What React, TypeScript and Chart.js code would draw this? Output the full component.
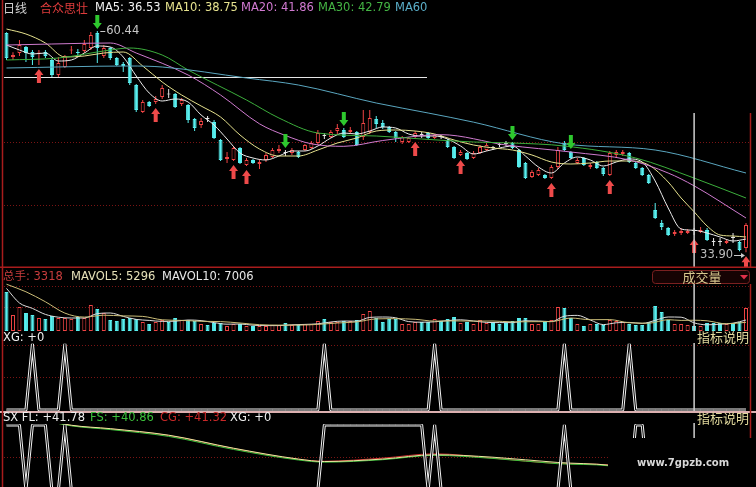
import React, { useEffect, useRef } from 'react';
import { Chart, registerables } from 'chart.js';

Chart.register(...registerables);

const W = 756;
const FONT = '11.5px "DejaVu Sans", "Noto Sans CJK SC", sans-serif';
const CJK12 = '12px "Noto Sans CJK SC", "DejaVu Sans", sans-serif';
const CJK13 = '13px "Noto Sans CJK SC", "DejaVu Sans", sans-serif';

const UP = '#f04444';
const DOWN = '#58f0f0';
const FLAT = '#e6e6e6';
const FRAME = '#a81c1c';
const GRID = '#7a1414';

// one slot per trading day, index 0..114
const X_MIN = -1.0;
const X_MAX = 115.54;
const CURSOR = 106;
const STOCK_NAME = '合众思壮';
const DRAWN_LEVEL = 54.92;

const opens = [
  60.2, 57.32, 57.8, 58.52, 57.92, 57.74, 57.92, 56.96, 55.16, 56.12,
  58.1, 57.92, 58.04, 58.4, 60.2, 57.44, 58.4, 57.2, 56.48, 57.2,
  53.96, 50.72, 51.92, 51.92, 52.52, 52.82, 52.88, 51.68, 51.56, 49.88,
  49.16, 49.88, 49.52, 47.36, 45.08, 44.96, 46.4, 44.36, 44.96, 44.48,
  44.96, 45.32, 46.04, 45.8, 45.8, 45.92, 46.16, 46.4, 47.0, 47.84,
  47.72, 48.44, 48.56, 48.32, 48.32, 47.72, 48.32, 49.88, 49.4, 48.92,
  48.32, 47.12, 47.12, 47.72, 47.96, 48.2, 47.6, 47.72, 47.36, 46.52,
  45.56, 45.8, 45.2, 45.8, 46.16, 46.4, 46.76, 46.88, 47.0, 46.16,
  44.6, 42.92, 43.16, 43.16, 42.8, 44.12, 47.0, 45.92, 44.6, 45.2,
  44.12, 44.72, 44.0, 43.16, 45.56, 45.68, 45.8, 44.6, 44.0, 43.16,
  38.96, 37.4, 36.8, 36.08, 36.2, 36.2, 36.44, 36.32, 36.56, 35.12,
  35.12, 35.0, 35.6, 35.12, 34.4,
];
const highs = [
  60.3, 57.9, 59.36, 58.64, 58.16, 58.16, 58.16, 57.2, 57.32, 57.56,
  58.64, 58.28, 59.36, 60.32, 60.44, 58.76, 58.52, 57.32, 56.72, 57.32,
  54.08, 52.16, 52.04, 52.64, 53.96, 53.48, 53.0, 52.4, 51.68, 50.0,
  50.0, 50.24, 49.76, 47.48, 45.92, 46.64, 46.52, 45.2, 45.08, 45.08,
  45.8, 46.4, 46.76, 46.16, 46.4, 46.04, 46.88, 47.24, 48.56, 48.2,
  48.56, 49.28, 48.8, 48.92, 48.44, 50.96, 50.96, 50.24, 49.76, 49.04,
  48.44, 47.84, 47.72, 48.44, 48.32, 48.32, 48.08, 47.96, 47.48, 46.64,
  46.16, 45.92, 46.04, 46.76, 47.0, 46.64, 47.0, 47.24, 47.12, 46.28,
  44.72, 43.76, 44.0, 43.28, 44.36, 46.52, 47.24, 46.04, 45.2, 45.32,
  44.6, 44.84, 44.12, 46.04, 46.16, 46.16, 45.92, 44.72, 44.12, 43.28,
  39.8, 37.76, 36.92, 36.56, 36.8, 36.68, 36.8, 36.92, 36.8, 35.6,
  35.6, 35.48, 36.2, 35.24, 37.4,
];
const lows = [
  56.96, 56.96, 57.44, 56.72, 56.36, 56.36, 57.2, 54.92, 54.92, 56.0,
  57.68, 57.44, 57.8, 58.16, 56.6, 57.2, 56.96, 56.24, 55.52, 53.96,
  50.72, 50.6, 51.32, 51.68, 52.28, 52.4, 51.2, 51.44, 49.4, 48.44,
  48.8, 49.52, 47.48, 44.84, 44.6, 44.84, 44.48, 44.24, 44.48, 43.88,
  44.72, 45.2, 45.8, 45.44, 45.56, 45.2, 46.04, 46.28, 46.76, 47.48,
  47.6, 48.08, 47.6, 48.08, 46.64, 47.36, 48.08, 48.8, 48.68, 48.2,
  47.12, 46.88, 47.0, 47.6, 47.6, 47.48, 47.48, 47.48, 46.4, 45.08,
  45.44, 44.96, 45.08, 45.68, 46.04, 46.16, 46.52, 46.64, 46.28, 44.0,
  42.68, 42.8, 43.04, 42.68, 42.68, 43.88, 46.04, 45.08, 44.48, 44.24,
  43.88, 43.88, 43.04, 43.04, 45.2, 45.44, 44.6, 43.88, 43.04, 42.08,
  37.88, 36.56, 35.84, 35.84, 35.96, 36.08, 35.96, 36.2, 35.24, 34.64,
  34.64, 34.88, 35.0, 34.0, 33.9,
];
const closes = [
  57.2, 57.56, 58.76, 57.8, 57.32, 57.8, 57.44, 55.16, 56.6, 57.44,
  58.16, 57.8, 58.88, 59.96, 58.4, 58.4, 57.2, 56.36, 56.24, 54.2,
  50.96, 51.92, 51.44, 52.28, 53.6, 52.82, 51.32, 52.16, 49.76, 48.8,
  49.64, 49.88, 47.6, 44.96, 45.32, 46.4, 44.6, 44.96, 44.6, 44.72,
  45.56, 46.16, 46.28, 45.8, 46.16, 45.32, 46.76, 47.0, 48.2, 47.84,
  48.32, 48.8, 47.72, 48.56, 46.76, 49.4, 50.0, 49.28, 48.92, 48.32,
  47.6, 47.72, 47.6, 48.2, 47.96, 47.6, 47.96, 47.72, 46.52, 45.2,
  45.92, 45.08, 45.8, 46.52, 46.76, 46.4, 46.76, 46.88, 46.4, 44.12,
  42.8, 43.52, 43.76, 42.8, 44.12, 46.16, 46.16, 45.2, 44.96, 44.36,
  44.36, 44.0, 43.28, 45.8, 45.92, 45.92, 44.72, 44.0, 43.16, 42.2,
  38.0, 36.92, 35.96, 36.32, 36.44, 36.44, 36.44, 36.56, 35.36, 35.12,
  35.12, 35.24, 35.6, 34.16, 37.16,
];
const volumes = [
  25380, 10420, 15570, 11730, 10360, 8470, 7820, 9760, 8430, 8480,
  7790, 9120, 8460, 16880, 14330, 11690, 7160, 6520, 7810, 8440,
  7830, 5860, 4540, 5870, 7140, 5830, 8460, 7170, 7150, 6490,
  4560, 3910, 5210, 5190, 3260, 4540, 4570, 3240, 3270, 3230,
  3260, 3920, 3890, 5220, 3910, 3880, 4560, 4530, 6510, 7790,
  5860, 5840, 6520, 6490, 7160, 11040, 13020, 8440, 5870, 7810,
  7790, 4560, 4540, 5860, 5830, 5870, 7820, 6490, 7810, 9120,
  5210, 5860, 4540, 7160, 5190, 5840, 4570, 5210, 6490, 8460,
  8430, 4560, 4540, 5870, 7140, 15620, 14930, 8460, 4550, 3260,
  4540, 4570, 3910, 7160, 6480, 5860, 4550, 3920, 3890, 5860,
  16240, 12360, 7150, 4560, 4540, 3910, 3318, 3260, 5210, 5190,
  5220, 4540, 5210, 5860, 14960,
];

type Pt = [number, number];

const ma5: Pt[] = [
  [0, 58.76], [2, 58.16], [4, 57.68], [6, 57.8], [8, 56.84], [10, 56.96], [12, 57.8], [14, 58.64],
  [16, 58.52], [18, 57.32], [20, 55.04], [22, 53.0], [24, 52.04], [26, 52.28], [28, 51.92], [30, 50.36],
  [32, 49.16], [34, 47.48], [36, 45.8], [38, 45.2], [40, 44.96], [42, 45.44], [44, 46.04], [46, 46.04],
  [48, 46.64], [50, 47.6], [52, 48.2], [54, 48.08], [56, 48.44], [58, 48.92], [60, 48.8], [62, 48.08],
  [64, 47.84], [66, 47.84], [68, 47.48], [70, 46.64], [72, 45.68], [74, 46.04], [76, 46.4], [78, 46.64],
  [80, 45.44], [82, 44.12], [84, 43.4], [86, 44.6], [88, 45.32], [90, 44.96], [92, 44.24], [94, 44.72],
  [96, 45.08], [98, 44.72], [100, 42.44], [102, 39.2], [104, 36.68], [106, 36.53], [108, 36.2],
  [110, 35.72], [112, 35.24], [114, 35.48],
];
const ma10: Pt[] = [
  [0, 60.68], [3, 60.08], [6, 59.0], [9, 57.32], [12, 57.44], [15, 57.8], [18, 57.92], [21, 56.24],
  [24, 54.32], [27, 52.76], [30, 51.44], [33, 50.12], [36, 47.96], [39, 46.28], [42, 45.44], [45, 45.44],
  [48, 46.16], [51, 47.0], [54, 47.6], [57, 48.44], [60, 48.56], [63, 48.44], [66, 48.08], [69, 47.36],
  [72, 46.76], [75, 46.4], [78, 46.16], [81, 45.56], [84, 44.72], [87, 44.48], [90, 44.6], [93, 44.84],
  [96, 44.84], [99, 44.36], [102, 42.32], [104, 40.4], [106, 38.75], [108, 37.04], [110, 35.96],
  [112, 35.84], [114, 35.72],
];
const ma20: Pt[] = [
  [0, 58.76], [7, 58.88], [16, 59.0], [20, 57.8], [28, 55.16], [33, 52.76], [39, 49.3], [43, 47.9],
  [47, 46.9], [52, 46.6], [58, 47.3], [67, 48.0], [77, 46.76], [87, 45.92], [96, 44.96], [102, 43.4],
  [106, 41.86], [114, 38.0],
];
const ma30: Pt[] = [
  [0, 56.96], [8, 57.2], [16, 58.16], [19, 58.4], [24, 57.56], [28, 55.76], [37, 52.16], [42, 50.0],
  [48, 48.2], [57, 47.84], [64, 47.48], [72, 47.12], [78, 47.0], [86, 46.64], [97, 45.2], [106, 42.79],
  [114, 40.4],
];
const ma60: Pt[] = [
  [0, 56.0], [19, 56.24], [24, 56.12], [37, 54.8], [45, 53.96], [57, 51.8], [65, 50.6], [72, 49.5],
  [86, 46.9], [100, 46.16], [114, 43.4],
];

const mavol5: Pt[] = [
  [0, 27700], [2, 18200], [4, 14690], [6, 10790], [8, 8970], [10, 8450], [12, 8450], [14, 11310],
  [16, 11700], [18, 9490], [20, 7540], [22, 6890], [24, 6240], [26, 6370], [28, 7150], [30, 6760],
  [32, 5460], [34, 4420], [36, 4550], [38, 3770], [40, 3510], [42, 3510], [44, 4030], [46, 4290],
  [48, 4680], [50, 5850], [52, 6500], [54, 6370], [56, 8840], [58, 9100], [60, 8580], [62, 6110],
  [64, 5720], [66, 5980], [68, 6760], [70, 7280], [72, 6500], [74, 5590], [76, 5460], [78, 5460],
  [80, 6630], [82, 6500], [84, 6110], [86, 9620], [88, 10140], [90, 7150], [92, 4160], [94, 5330],
  [96, 5590], [98, 4940], [100, 6890], [102, 9100], [104, 8970], [106, 5296], [108, 4030], [110, 4420],
  [112, 5070], [114, 7150],
];
const mavol10: Pt[] = [
  [0, 30400], [3, 25500], [6, 19000], [9, 11635], [12, 9035], [15, 10270], [18, 9815], [21, 9490],
  [24, 7280], [27, 6890], [30, 6305], [33, 6110], [36, 5200], [39, 4095], [42, 3835], [45, 3835],
  [48, 4290], [51, 5200], [54, 5915], [57, 7865], [60, 7995], [63, 7605], [66, 6435], [69, 6565],
  [72, 6435], [75, 6500], [78, 5915], [81, 6045], [84, 6110], [87, 8450], [90, 7345], [93, 7410],
  [96, 5330], [99, 5070], [102, 7345], [104, 6890], [106, 7006], [108, 6630], [111, 4680], [114, 5655],
];

// signal days
const buySignals = [5, 23, 35, 37, 63, 70, 84, 93, 106, 114];
const sellSignals = [14, 43, 52, 78, 87];
const xgSpikes = [4, 9, 49, 66, 86, 96];

// SX panel
const sxHoldRanges: Pt[] = [[0, 2], [4, 6], [9, 9], [49, 64], [66, 66], [86, 86], [97, 98]];
const SX_HIGH = 60;
const SX_LOW = 39;
const sxFL: Pt[] = [
  [4, 62.5], [10, 59.9], [16, 58.8], [25, 56.7], [35, 52.5], [45, 49.0], [49, 48.2], [58, 49.0],
  [66, 50.4], [75, 49.6], [85, 47.9], [93, 47.0], [100, 44.6], [106, 41.78], [114, 40.6],
];
const sxFS: Pt[] = [
  [4, 62.3], [10, 59.7], [16, 58.5], [25, 56.3], [35, 52.1], [45, 48.7], [49, 48.0], [58, 48.8],
  [66, 50.2], [75, 49.2], [85, 47.5], [93, 46.8], [100, 44.0], [106, 40.86], [114, 39.7],
];
const sxCG: Pt[] = [
  [4, 62.4], [10, 59.8], [16, 58.7], [25, 56.6], [35, 52.4], [45, 48.9], [49, 48.3], [58, 49.3],
  [66, 50.7], [75, 49.3], [85, 47.6], [93, 47.1], [100, 44.4], [106, 41.32], [114, 40.1],
];

const N = closes.length;
const toXY = (pts: Pt[]) => pts.map(([x, y]) => ({ x, y }));
const valueAt = (pts: Pt[], i: number) => {
  const p = pts.find((q) => q[0] === i);
  return p ? p[1] : NaN;
};
const candleColor = (i: number) => (closes[i] > opens[i] ? UP : closes[i] < opens[i] ? DOWN : FLAT);
const xgSeries = Array.from({ length: N }, (_, i) => ({ x: i, y: xgSpikes.includes(i) ? 1 : 0 }));
const sxSeries = Array.from({ length: N }, (_, i) => ({
  x: i,
  y: sxHoldRanges.some(([a, b]) => i >= a && i <= b) ? SX_HIGH : SX_LOW,
}));

function hline(ctx: CanvasRenderingContext2D, x1: number, x2: number, y: number) {
  ctx.beginPath();
  ctx.moveTo(x1, y);
  ctx.lineTo(x2, y);
  ctx.stroke();
}
function vline(ctx: CanvasRenderingContext2D, x: number, y1: number, y2: number) {
  ctx.beginPath();
  ctx.moveTo(x, y1);
  ctx.lineTo(x, y2);
  ctx.stroke();
}
function label(
  ctx: CanvasRenderingContext2D,
  s: string,
  x: number,
  y: number,
  color: string,
  align: CanvasTextAlign = 'left',
  font = FONT
) {
  ctx.font = font;
  ctx.fillStyle = color;
  ctx.textAlign = align;
  ctx.textBaseline = 'middle';
  ctx.fillText(s, x, y);
}
function dotted(ctx: CanvasRenderingContext2D, ys: number[]) {
  ctx.save();
  ctx.strokeStyle = GRID;
  ctx.lineWidth = 1;
  ctx.setLineDash([1, 2]);
  ys.forEach((y) => hline(ctx, 4, 750, y));
  ctx.restore();
}
function sideFrame(ctx: CanvasRenderingContext2D, h: number, rightFrom = 0) {
  ctx.save();
  ctx.strokeStyle = FRAME;
  ctx.lineWidth = 1.5;
  vline(ctx, 2.5, 0, h);
  vline(ctx, 750.5, rightFrom, h);
  ctx.restore();
}
function cursor(chart: any, y1: number, y2: number) {
  const x = chart.scales.x.getPixelForValue(CURSOR);
  const ctx = chart.ctx as CanvasRenderingContext2D;
  ctx.save();
  ctx.strokeStyle = '#cfcfcf';
  ctx.lineWidth = 1.5;
  vline(ctx, x, y1, y2);
  ctx.restore();
}
function upArrow(ctx: CanvasRenderingContext2D, x: number, yTop: number, color: string) {
  ctx.beginPath();
  ctx.moveTo(x, yTop);
  ctx.lineTo(x + 4.5, yTop + 6);
  ctx.lineTo(x + 2, yTop + 6);
  ctx.lineTo(x + 2, yTop + 14);
  ctx.lineTo(x - 2, yTop + 14);
  ctx.lineTo(x - 2, yTop + 6);
  ctx.lineTo(x - 4.5, yTop + 6);
  ctx.closePath();
  ctx.fillStyle = color;
  ctx.fill();
}
function downArrow(ctx: CanvasRenderingContext2D, x: number, yTip: number, color: string) {
  ctx.beginPath();
  ctx.moveTo(x, yTip);
  ctx.lineTo(x + 4.5, yTip - 6);
  ctx.lineTo(x + 2, yTip - 6);
  ctx.lineTo(x + 2, yTip - 14);
  ctx.lineTo(x - 2, yTip - 14);
  ctx.lineTo(x - 2, yTip - 6);
  ctx.lineTo(x - 4.5, yTip - 6);
  ctx.closePath();
  ctx.fillStyle = color;
  ctx.fill();
}

function baseOptions(padTop: number, padBottom: number, yMin: number, yMax: number): any {
  return {
    responsive: false,
    animation: false,
    events: [],
    layout: { padding: { top: padTop, bottom: padBottom, left: 0, right: 0 } },
    plugins: { legend: { display: false }, tooltip: { enabled: false }, title: { display: false } },
    scales: {
      x: { type: 'linear', min: X_MIN, max: X_MAX, display: false, offset: false, bounds: 'data' },
      y: { type: 'linear', min: yMin, max: yMax, display: false, beginAtZero: false, bounds: 'data' },
    },
  };
}

const line = (pts: Pt[], color: string, width = 1, order = 0): any => ({
  type: 'line',
  data: toXY(pts),
  borderColor: color,
  borderWidth: width,
  pointRadius: 0,
  cubicInterpolationMode: 'monotone',
  order,
});

function priceConfig(): any {
  const colors = opens.map((_, i) => candleColor(i));
  const fills = opens.map((o, i) => (closes[i] > o ? '#000000' : candleColor(i)));
  return {
    type: 'bar',
    data: {
      datasets: [
        {
          data: highs.map((h, i) => ({ x: i, y: [lows[i], h] })),
          backgroundColor: colors,
          borderWidth: 0,
          barThickness: 1,
          grouped: false,
          inflateAmount: 0,
          order: 2,
        },
        {
          data: opens.map((o, i) => ({ x: i, y: [Math.min(o, closes[i]), Math.max(o, closes[i])] })),
          backgroundColor: fills,
          borderColor: colors,
          borderWidth: 1,
          borderSkipped: false,
          barThickness: 4,
          minBarLength: 1,
          grouped: false,
          inflateAmount: 0,
          order: 1,
        },
        line(ma60, '#5aa6bf'),
        line(ma30, '#3cae3c'),
        line(ma20, '#cf7bcf'),
        line(ma10, '#e6e28e'),
        line(ma5, '#ececec'),
      ],
    },
    options: baseOptions(18, 0, 32, 62),
    plugins: [
      {
        id: 'priceDecor',
        beforeDatasetsDraw(chart: any) {
          const ctx = chart.ctx as CanvasRenderingContext2D;
          dotted(ctx, [142.5, 205.5]);
          ctx.save();
          ctx.strokeStyle = '#e6e6e6';
          ctx.lineWidth = 1;
          const hy = Math.round(chart.scales.y.getPixelForValue(DRAWN_LEVEL)) + 0.5;
          hline(ctx, 4, 427, hy);
          ctx.restore();
        },
        afterDatasetsDraw(chart: any) {
          const ctx = chart.ctx as CanvasRenderingContext2D;
          const { x, y } = chart.scales;
          ctx.save();
          buySignals.forEach((i) => upArrow(ctx, x.getPixelForValue(i), y.getPixelForValue(lows[i]) + 4, '#ee4a4a'));
          sellSignals.forEach((i) => downArrow(ctx, x.getPixelForValue(i), y.getPixelForValue(highs[i]) - 2, '#2ec82e'));

          // highest and lowest marks
          const hi = Math.max(...highs);
          const lo = Math.min(...lows);
          const hx = x.getPixelForValue(highs.indexOf(hi));
          const hy = y.getPixelForValue(hi);
          ctx.strokeStyle = '#c8c8c8';
          ctx.lineWidth = 1;
          hline(ctx, hx + 3, hx + 8, Math.round(hy) + 0.5);
          label(ctx, hi.toFixed(2), hx + 9, hy, '#c8c8c8');
          const lx = x.getPixelForValue(lows.indexOf(lo));
          const ly = y.getPixelForValue(lo) + 3;
          label(ctx, lo.toFixed(2), lx - 13, ly, '#bdbdbd', 'right');
          hline(ctx, lx - 12, lx - 3, Math.round(ly) + 0.5);
          ctx.beginPath();
          ctx.moveTo(lx - 1, Math.round(ly) + 0.5);
          ctx.lineTo(lx - 5, Math.round(ly) - 2);
          ctx.lineTo(lx - 5, Math.round(ly) + 3);
          ctx.closePath();
          ctx.fillStyle = '#c8c8c8';
          ctx.fill();

          // header
          label(ctx, '日线', 3, 8, '#d0d0d0', 'left', CJK12);
          label(ctx, STOCK_NAME, 40, 8, '#e03c3c', 'left', CJK12);
          label(ctx, `MA5: ${valueAt(ma5, CURSOR).toFixed(2)}`, 95, 8, '#f0f0f0');
          label(ctx, `MA10: ${valueAt(ma10, CURSOR).toFixed(2)}`, 165, 8, '#e6e28e');
          label(ctx, `MA20: ${valueAt(ma20, CURSOR).toFixed(2)}`, 241, 8, '#d27ad2');
          label(ctx, `MA30: ${valueAt(ma30, CURSOR).toFixed(2)}`, 318, 8, '#44b444');
          label(ctx, 'MA60', 395, 8, '#5aaec8');
          ctx.restore();

          cursor(chart, 113, 268);
          sideFrame(ctx, 268, 113);
          ctx.save();
          ctx.strokeStyle = FRAME;
          ctx.lineWidth = 1.5;
          hline(ctx, 0, W, 267.2);
          ctx.restore();
        },
      },
    ],
  };
}

function volumeConfig(): any {
  const colors = volumes.map((_, i) => (closes[i] > opens[i] ? UP : DOWN));
  const fills = volumes.map((_, i) => (closes[i] > opens[i] ? '#000000' : DOWN));
  return {
    type: 'bar',
    data: {
      datasets: [
        {
          data: volumes.map((v, i) => ({ x: i, y: v })),
          backgroundColor: fills,
          borderColor: colors,
          borderWidth: 1,
          borderSkipped: false,
          barThickness: 4,
          grouped: false,
          inflateAmount: 0,
          order: 1,
        },
        line(mavol10, '#cbbd78'),
        line(mavol5, '#dcdcdc'),
      ],
    },
    options: baseOptions(12, 0, 0, 33150),
    plugins: [
      {
        id: 'volDecor',
        beforeDatasetsDraw(chart: any) {
          dotted(chart.ctx, [18.5, 39.5]);
        },
        afterDatasetsDraw(chart: any) {
          const ctx = chart.ctx as CanvasRenderingContext2D;
          ctx.save();
          label(ctx, `总手: ${volumes[CURSOR]}`, 3, 9, '#c83c3c');
          label(ctx, `MAVOL5: ${valueAt(mavol5, CURSOR)}`, 71, 9, '#e6e0b8');
          label(ctx, `MAVOL10: ${valueAt(mavol10, CURSOR)}`, 162, 9, '#e8e8e8');
          // indicator selector box
          ctx.beginPath();
          ctx.roundRect(652.5, 2.5, 97, 13, 3);
          ctx.fillStyle = '#160303';
          ctx.fill();
          ctx.strokeStyle = '#7a2020';
          ctx.lineWidth = 1;
          ctx.stroke();
          label(ctx, '成交量', 702, 9, '#d8c88e', 'center', CJK13);
          ctx.beginPath();
          ctx.moveTo(740, 7);
          ctx.lineTo(748, 7);
          ctx.lineTo(744, 11.5);
          ctx.closePath();
          ctx.fillStyle = '#e0304a';
          ctx.fill();
          ctx.restore();
          cursor(chart, 16, 63);
          sideFrame(ctx, 63, 16);
        },
      },
    ],
  };
}

function xgConfig(): any {
  return {
    type: 'line',
    data: {
      datasets: [
        { data: xgSeries, borderColor: '#f2f2f2', borderWidth: 3, pointRadius: 0, tension: 0, borderJoinStyle: 'bevel', clip: false, order: 1 },
        { data: xgSeries, borderColor: '#000000', borderWidth: 1, pointRadius: 0, tension: 0, borderJoinStyle: 'bevel', clip: false, order: 0 },
      ],
    },
    options: baseOptions(13, 1, 0, 1),
    plugins: [
      {
        id: 'xgDecor',
        beforeDatasetsDraw(chart: any) {
          dotted(chart.ctx, [14.5, 46.5]);
        },
        afterDatasetsDraw(chart: any) {
          const ctx = chart.ctx as CanvasRenderingContext2D;
          ctx.save();
          label(ctx, `XG: +${xgSeries[CURSOR].y}`, 3, 7, '#eeeeee');
          label(ctx, '指标说明', 749, 6.5, '#e0d89c', 'right', CJK13);
          ctx.restore();
          cursor(chart, 12, 80);
          sideFrame(ctx, 80);
        },
      },
    ],
  };
}

function sxConfig(): any {
  const thin = (pts: Pt[], color: string, order: number): any => ({
    data: toXY(pts),
    borderColor: color,
    borderWidth: 1,
    pointRadius: 0,
    cubicInterpolationMode: 'monotone',
    order,
  });
  return {
    type: 'line',
    data: {
      datasets: [
        thin(sxCG, '#d03030', 4),
        thin(sxFS, '#3cc03c', 3),
        thin(sxFL, '#e8e8a0', 2),
        { data: sxSeries, borderColor: '#f2f2f2', borderWidth: 3, pointRadius: 0, tension: 0, borderJoinStyle: 'bevel', order: 1 },
        { data: sxSeries, borderColor: '#000000', borderWidth: 1, pointRadius: 0, tension: 0, borderJoinStyle: 'bevel', order: 0 },
      ],
    },
    options: baseOptions(13, 0, 40, 60.3),
    plugins: [
      {
        id: 'sxDecor',
        beforeDatasetsDraw(chart: any) {
          const ctx = chart.ctx as CanvasRenderingContext2D;
          dotted(ctx, [46.5]);
          ctx.save();
          ctx.strokeStyle = '#dcb0b0';
          ctx.lineWidth = 2;
          hline(ctx, 0, W, 1);
          ctx.restore();
        },
        afterDatasetsDraw(chart: any) {
          const ctx = chart.ctx as CanvasRenderingContext2D;
          ctx.save();
          label(ctx, `SX FL: +${valueAt(sxFL, CURSOR).toFixed(2)}`, 3, 7, '#eeeeee');
          label(ctx, `FS: +${valueAt(sxFS, CURSOR).toFixed(2)}`, 90, 7, '#3cc03c');
          label(ctx, `CG: +${valueAt(sxCG, CURSOR).toFixed(2)}`, 160, 7, '#c82828');
          label(ctx, `XG: +${xgSeries[CURSOR].y}`, 230, 7, '#eeeeee');
          label(ctx, '指标说明', 749, 7.5, '#e0d89c', 'right', CJK13);
          ctx.restore();
          cursor(chart, 12, 76);
          sideFrame(ctx, 76);
          ctx.save();
          ctx.fillStyle = '#000000';
          ctx.fillRect(608, 27, W - 608, 49);
          label(ctx, 'www.7gpzb.com', 637, 52, '#d8d8d8', 'left', 'bold 10px "DejaVu Sans", sans-serif');
          ctx.restore();
        },
      },
    ],
  };
}

function Panel({ top, height, make }: { top: number; height: number; make: () => any }) {
  const ref = useRef<HTMLCanvasElement | null>(null);
  useEffect(() => {
    if (!ref.current) return;
    const chart = new Chart(ref.current, make());
    return () => chart.destroy();
  }, [make]);
  return (
    <canvas
      ref={ref}
      width={W}
      height={height}
      style={{ position: 'absolute', left: 0, top, width: W, height, display: 'block' }}
    />
  );
}

export default function App() {
  return (
    <div
      style={{
        position: 'fixed',
        left: 0,
        top: 0,
        width: W,
        height: 487,
        background: '#000',
        overflow: 'hidden',
      }}
    >
      <Panel top={0} height={268} make={priceConfig} />
      <Panel top={268} height={63} make={volumeConfig} />
      <Panel top={331} height={80} make={xgConfig} />
      <Panel top={411} height={76} make={sxConfig} />
    </div>
  );
}
